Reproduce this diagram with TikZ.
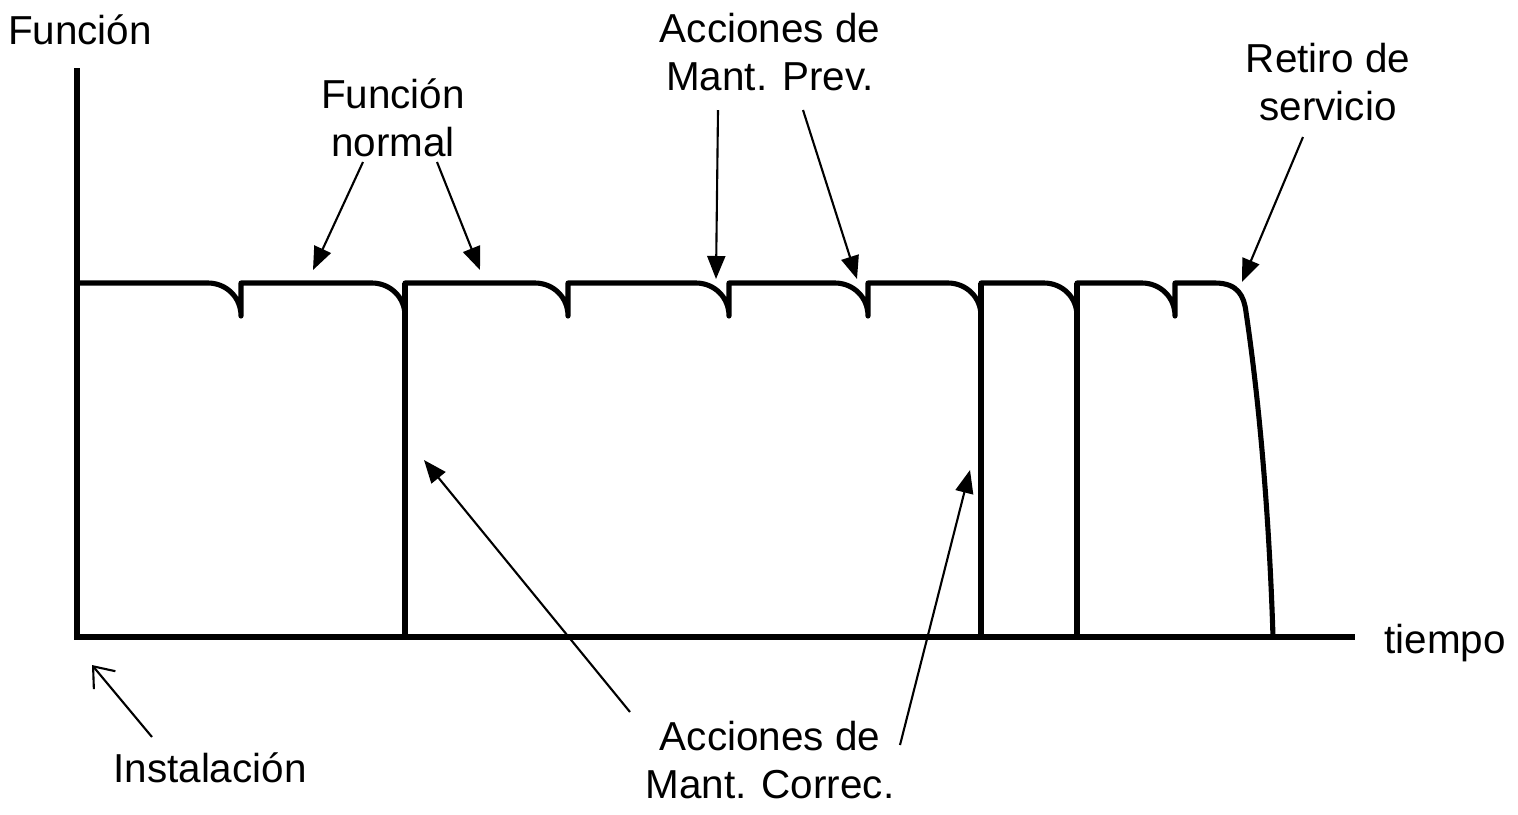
\documentclass[tikz,border=0pt]{standalone}
\usepackage{fontspec}
\setmainfont{Liberation Sans}
\usetikzlibrary{positioning,arrows.meta}

% one drop of the function curve: corner bottom at x=#1
\newcommand{\dipat}[1]{-- ({#1-33},283) .. controls ({#1-15},283) and (#1,297) .. (#1,316) -- (#1,283)}

\begin{document}
\begin{tikzpicture}[
    x=0.01cm, y=-0.01cm,
    every node/.style={font=\fontsize{11.5}{13.8}\selectfont, align=center},
    axis/.style={line width=1.45pt},
    curve/.style={line width=1.45pt, line join=round},
    arrow/.style={-{Triangle[length=2.3mm, width=1.8mm]}, line width=0.6pt},
    openarrow/.style={-{Straight Barb[length=1.8mm, width=2.8mm]}, line width=0.6pt},
]
\useasboundingbox (0,0) rectangle (1518,814);

% axes
\draw[axis] (77,68) -- (77,637) -- (1355,637);

% function level with preventive and corrective drops
\draw[curve] (77,283) \dipat{241} \dipat{405} \dipat{568} \dipat{729}
    \dipat{868} \dipat{981} \dipat{1077} \dipat{1175}
    -- (1215,283) .. controls (1238,283) and (1244,296) .. (1246,312)
    .. controls (1262,420) and (1270,540) .. (1273,637);
\draw[curve] (405,283) -- (405,637);
\draw[curve] (981,283) -- (981,637);
\draw[curve] (1077,283) -- (1077,637);

% labels
\node (funcion) at (80,30) {Función};
\node (tiempo) at (1445,643) {tiempo};
\node (normal) at (393,118) {Función\\normal};
\node (prev) at (770,52) {Acciones de\\Mant. Prev.};
\node (retiro) at (1328,82) {Retiro de\\servicio};
\node (correc) at (770,760) {Acciones de\\Mant. Correc.};
\node (instal) at (210,768) {Instalación};

% arrow ends
\coordinate (n1) at (363,162);  \coordinate (n1t) at (313,270);
\coordinate (n2) at (437,162);  \coordinate (n2t) at (480,270);
\coordinate (p1) at (718,110);  \coordinate (p1t) at (716,279);
\coordinate (p2) at (803,110);  \coordinate (p2t) at (857,279);
\coordinate (r1) at (1303,137); \coordinate (r1t) at (1242,282);
\coordinate (c1) at (630,712);  \coordinate (c1t) at (424,460);
\coordinate (c2) at (900,745);  \coordinate (c2t) at (970,470);
\coordinate (i1) at (152,737);  \coordinate (i1t) at (92,665);

\draw[arrow] (n1) -- (n1t);
\draw[arrow] (n2) -- (n2t);
\draw[arrow] (p1) -- (p1t);
\draw[arrow] (p2) -- (p2t);
\draw[arrow] (r1) -- (r1t);
\draw[arrow] (c1) -- (c1t);
\draw[arrow] (c2) -- (c2t);
\draw[openarrow] (i1) -- (i1t);
\end{tikzpicture}
\end{document}
